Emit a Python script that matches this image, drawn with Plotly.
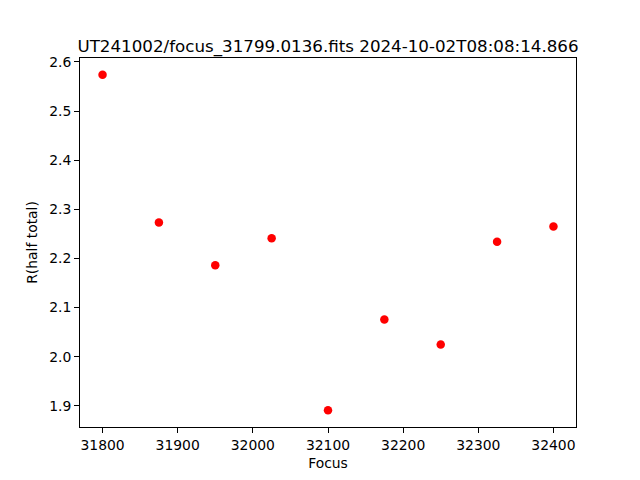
import plotly.graph_objects as go

focus = [31800, 31875, 31950, 32025, 32100, 32175, 32250, 32325, 32400]
r_half = [2.574, 2.273, 2.186, 2.241, 1.891, 2.076, 2.025, 2.234, 2.265]
x_ticks = [31800, 31900, 32000, 32100, 32200, 32300, 32400]
y_ticks = [1.9, 2.0, 2.1, 2.2, 2.3, 2.4, 2.5, 2.6]

fig = go.Figure(go.Scatter(x=focus, y=r_half, mode="markers",
                           marker=dict(color="red", size=8.5, line=dict(width=0))))

axis_common = dict(showline=True, linecolor="black", linewidth=1, mirror=True,
                   ticks="outside", ticklen=5, tickwidth=1, tickcolor="black",
                   showgrid=False, zeroline=False, automargin=False,
                   tickfont=dict(family="DejaVu Sans", size=13.9, color="black"))

# The page body has an 8px margin, so the figure is offset by 8px right and down.
fig.update_layout(
    width=632, height=472,
    paper_bgcolor="white", plot_bgcolor="white",
    margin=dict(l=72, r=64, t=50, b=53),
    title=dict(text="UT241002/focus_31799.0136.fits 2024-10-02T08:08:14.866",
               x=0.5, xref="paper", xanchor="center", y=1, yref="paper", yanchor="bottom",
               pad=dict(b=6), automargin=False,
               font=dict(family="DejaVu Sans", size=16.7, color="black")),
    xaxis=dict(range=[31770, 32430], tickvals=x_ticks,
               ticktext=[str(v) for v in x_ticks],
               title=dict(text="Focus", font=dict(family="DejaVu Sans", size=13.9, color="black"), standoff=6),
               **axis_common),
    yaxis=dict(range=[1.857, 2.608], tickvals=y_ticks,
               ticktext=[f"{v:.1f}" for v in y_ticks],
               title=dict(text="R(half total)", font=dict(family="DejaVu Sans", size=13.9, color="black"), standoff=8),
               **axis_common),
    showlegend=False,
)

fig.write_html("out.html")
